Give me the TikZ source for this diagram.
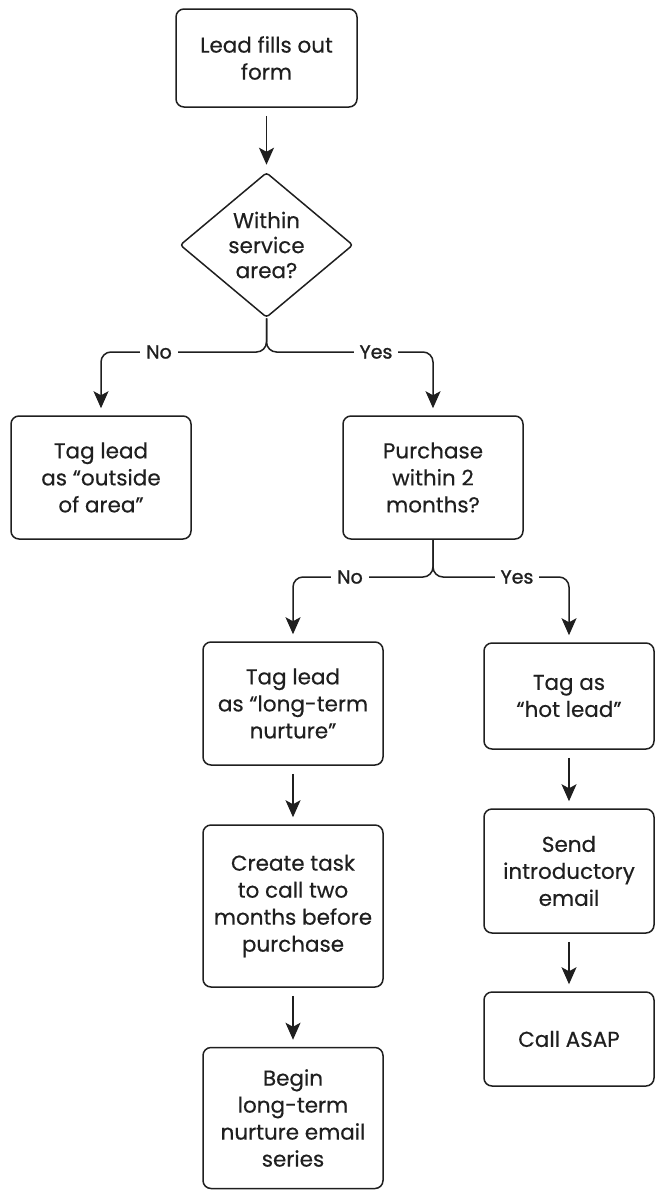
\documentclass[tikz,border=0pt]{standalone}
\usepackage{fontspec}
\setmainfont[FakeBold=0.4]{Poppins}
\newfontfamily\answerfont[FakeBold=1.2]{Poppins}
\usepackage{tikz}
\usetikzlibrary{shapes.geometric}
\usetikzlibrary{arrows.meta}
\usepackage{xcolor}
\definecolor{ink}{rgb}{0.12,0.12,0.12}
\tikzstyle{box}=[draw=ink,text=ink,line width=1.5pt,rounded corners=8pt,align=center,minimum width=180pt,minimum height=123pt,inner sep=0pt,font=\fontsize{21.5}{27}\selectfont]
\tikzstyle{box hot}=[box,minimum width=170pt]
\tikzstyle{decision}=[box,diamond,rounded corners=3pt,aspect=1.2,minimum width=173pt,minimum height=145pt,font=\fontsize{21.5}{25}\selectfont]
\tikzstyle{flow}=[draw=ink,line width=1.5pt,-{Stealth[length=17pt,width=15pt,inset=4pt]},shorten <=8pt,shorten >=7pt]
\tikzstyle{branch}=[flow,shorten <=0pt,rounded corners=10pt]
\tikzstyle{answer}=[fill=white,text=ink,inner sep=6pt,font=\answerfont\fontsize{19}{19}\selectfont]

\begin{document}
\begin{tikzpicture}[x=1pt,y=-1pt]
		\useasboundingbox (0,0) rectangle (655,1192);

		\node[box,minimum width=181pt,minimum height=98pt](form) at (266.5,58){Lead fills out\\form};
		\node[decision](area) at (266.5,245){Within\\service\\area?};

		\node[box](outside) at (101,477.5){Tag lead\\as “outside\\of area”};
		\node[box](purchase) at (433,477.5){Purchase\\within 2\\months?};

		\node[box](nurture) at (293,703.5){Tag lead\\as “long-term\\nurture”};
		\node[box,minimum height=162pt](task) at (293,906){Create task\\to call two\\months before\\purchase};
		\node[box,minimum height=141pt](begin) at (293,1118){Begin\\long-term\\nurture email\\series};

		\node[box hot,minimum height=106pt](hot) at (569,696){Tag as\\“hot lead”};
		\node[box hot,minimum height=124pt](intro) at (569,871){Send\\introductory\\email};
		\node[box hot,minimum height=94pt](asap) at (569,1039){Call ASAP};

		\coordinate(j1) at (266.5,352);
		\coordinate(j2) at (433,577);
%form to decision
		\draw[flow] (form) -- (area);
%first split
		\draw[branch] (area.south) -- (j1) -| (outside.north);
		\draw[branch] (area.south) -- (j1) -| (purchase.north);
		\node[answer](no1) at (159,352){No};
		\node[answer](yes1) at (376,352){Yes};
%second split
		\draw[branch] (purchase.south) -- (j2) -| (nurture.north);
		\draw[branch] (purchase.south) -- (j2) -| (hot.north);
		\node[answer](no2) at (350,577){No};
		\node[answer](yes2) at (517,577){Yes};
%long-term column
		\draw[flow] (nurture) -- (task);
		\draw[flow] (task) -- (begin);
%hot lead column
		\draw[flow] (hot) -- (intro);
		\draw[flow] (intro) -- (asap);
	\end{tikzpicture}
\end{document}
